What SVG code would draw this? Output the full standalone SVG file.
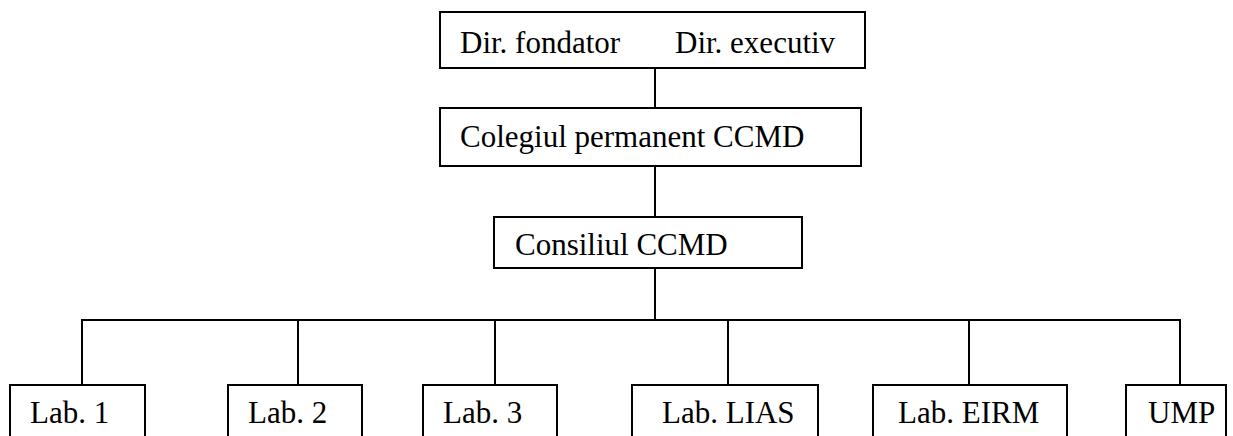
<svg xmlns="http://www.w3.org/2000/svg" width="1233" height="436" viewBox="0 0 1233 436">
<defs>
<style>
.box{fill:#fff;stroke:#000;stroke-width:2}
.c{stroke:#000;stroke-width:2;fill:none}
</style>
</defs>
<rect width="1233" height="436" fill="#fff"/>
<g id="connectors">
<line class="c" x1="655" y1="68" x2="655" y2="108"/>
<line class="c" x1="655" y1="166" x2="655" y2="217"/>
<line class="c" x1="655" y1="268" x2="655" y2="320"/>
<line class="c" x1="81" y1="320" x2="1181" y2="320"/>
<line class="c" x1="82" y1="320" x2="82" y2="385"/>
<line class="c" x1="298" y1="320" x2="298" y2="385"/>
<line class="c" x1="495" y1="320" x2="495" y2="385"/>
<line class="c" x1="728" y1="320" x2="728" y2="385"/>
<line class="c" x1="969" y1="320" x2="969" y2="385"/>
<line class="c" x1="1180" y1="320" x2="1180" y2="385"/>
</g>
<g font-family="'Liberation Serif', 'DejaVu Serif', serif" font-size="31" fill="#000">
<g id="directors">
<rect class="box" x="440" y="12" width="425" height="56"/>
<text x="460" y="53">Dir. fondator</text>
<text x="675" y="53">Dir. executiv</text>
</g>
<g id="colegiul">
<rect class="box" x="440" y="108" width="421" height="58"/>
<text x="460" y="147">Colegiul permanent CCMD</text>
</g>
<g id="consiliul">
<rect class="box" x="494" y="217" width="308" height="51"/>
<text x="515" y="255">Consiliul CCMD</text>
</g>
<g id="lab1">
<rect class="box" x="10" y="385" width="135" height="60"/>
<text x="30" y="423">Lab. 1</text>
</g>
<g id="lab2">
<rect class="box" x="228" y="385" width="134" height="60"/>
<text x="248" y="423">Lab. 2</text>
</g>
<g id="lab3">
<rect class="box" x="423" y="385" width="134" height="60"/>
<text x="443" y="423">Lab. 3</text>
</g>
<g id="lablias">
<rect class="box" x="632" y="385" width="186" height="60"/>
<text x="662" y="423">Lab. LIAS</text>
</g>
<g id="labeirm">
<rect class="box" x="873" y="385" width="194" height="60"/>
<text x="898" y="423">Lab. EIRM</text>
</g>
<g id="ump">
<rect class="box" x="1126" y="385" width="100" height="60"/>
<text x="1148" y="423">UMP</text>
</g>
</g>
</svg>
